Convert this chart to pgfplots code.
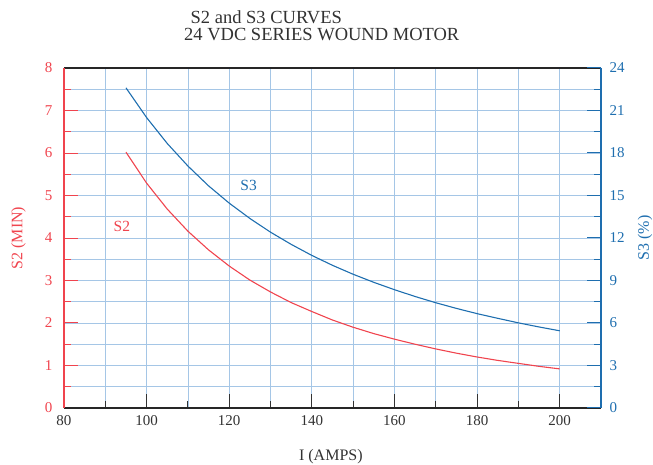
\documentclass[border=0pt]{standalone}
\usepackage{pgfplots}
\pgfplotsset{compat=1.18}
\usepackage{fontspec}
\setmainfont{Liberation Serif}
\definecolor{cred}{RGB}{240,68,78}
\definecolor{cblue}{RGB}{30,110,175}
\definecolor{cgrid}{RGB}{165,198,230}
\definecolor{ctext}{RGB}{50,50,50}
\pgfplotstableread{
x y
95 6.02
100 5.29
105 4.68
110 4.16
115 3.72
120 3.34
125 3.01
130 2.73
135 2.48
140 2.27
145 2.07
150 1.90
155 1.75
160 1.62
165 1.50
170 1.39
175 1.29
180 1.20
185 1.12
190 1.05
195 0.98
200 0.92
}\stwo
\pgfplotstableread{
x y
95 22.6
100 20.5
105 18.67
110 17.08
115 15.68
120 14.46
125 13.38
130 12.41
135 11.55
140 10.77
145 10.07
150 9.44
155 8.87
160 8.35
165 7.87
170 7.43
175 7.03
180 6.66
185 6.33
190 6.01
195 5.72
200 5.45
}\sthree
\begin{document}
\begin{tikzpicture}
\useasboundingbox (-64pt,-57pt) rectangle (589pt,408pt);
\begin{axis}[
 scale only axis, width=537pt, height=340pt,
 xmin=80, xmax=210, ymin=0, ymax=8,
 separate axis lines,
 axis x line*=box, axis y line*=left,
 x axis line style={black!85, line width=1.3pt, -},
 y axis line style={cred, line width=1.3pt, -},
 xtick={80,100,...,200}, minor xtick={90,110,...,190},
 ytick={0,1,...,8}, minor ytick={0.5,1.5,...,7.5},
 xtick pos=left, ytick pos=left,
 tick align=inside, major tick length=14pt, minor tick length=7pt,
 x tick style={black!80, line width=1pt},
 y tick style={cred, line width=1pt},
 grid=both,
 major grid style={cgrid, line width=0.8pt},
 minor grid style={cgrid, line width=0.8pt},
 /pgf/number format/assume math mode=true,
 tick label style={font=\fontsize{15}{17}\selectfont},
 xticklabel style={ctext, yshift=-4pt},
 yticklabel style={cred, xshift=-8pt},
 xlabel={I (AMPS)}, ylabel={S2 (MIN)},
 label style={font=\fontsize{16}{19}\selectfont},
 xlabel style={ctext, at={(axis description cs:0.497,-0.144)}, anchor=center},
 ylabel style={cred, at={(axis description cs:-0.0847,0.5)}, anchor=center},
]
\addplot[cred, line width=1.1pt, no marks] table[x=x,y=y] {\stwo};
\node[cred, font=\fontsize{15.5}{18}\selectfont] at (axis cs:94,4.28) {S2};
\end{axis}
\begin{axis}[
 scale only axis, width=537pt, height=340pt,
 xmin=80, xmax=210, ymin=0, ymax=24,
 axis x line=none, axis y line*=right,
 y axis line style={cblue, line width=1.3pt, -},
 ytick={0,3,...,24}, minor ytick={1.5,4.5,...,22.5},
 tick align=inside, major tick length=14pt, minor tick length=7pt,
 y tick style={cblue, line width=1pt},
 /pgf/number format/assume math mode=true,
 yticklabel style={cblue, font=\fontsize{15}{17}\selectfont, xshift=5pt},
 ylabel={S3 (\%)},
 ylabel style={cblue, font=\fontsize{16}{19}\selectfont, at={(axis description cs:1.082,0.5)}, anchor=center},
]
\addplot[cblue, line width=1.1pt, no marks] table[x=x,y=y] {\sthree};
\node[cblue, font=\fontsize{15.5}{18}\selectfont] at (axis cs:124.7,15.74) {S3};
\end{axis}
\node[anchor=west, inner sep=0pt, ctext, font=\fontsize{18.5}{22}\selectfont] at (126.5pt,391pt) {S2 and S3 CURVES};
\node[anchor=west, inner sep=0pt, ctext, font=\fontsize{18.5}{22}\selectfont] at (120pt,373pt) {24 VDC SERIES WOUND MOTOR};
\end{tikzpicture}
\end{document}
